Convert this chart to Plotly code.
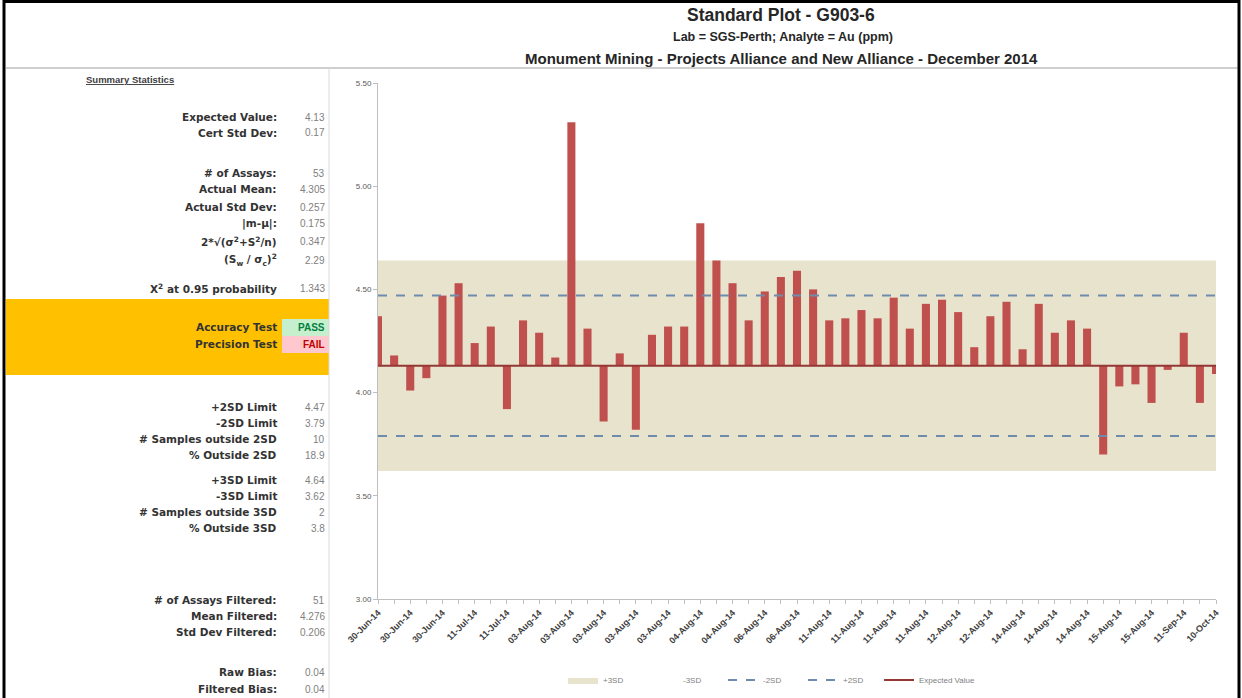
import plotly.graph_objects as go

# ---- data ----
expected_value = 4.13
sd2_lower, sd2_upper = 3.79, 4.47
sd3_lower, sd3_upper = 3.62, 4.64

assay_values = [
    4.37, 4.18, 4.01, 4.07, 4.47, 4.53, 4.24, 4.32, 3.92, 4.35,
    4.29, 4.17, 5.31, 4.31, 3.86, 4.19, 3.82, 4.28, 4.32, 4.32,
    4.82, 4.64, 4.53, 4.35, 4.49, 4.56, 4.59, 4.50, 4.35, 4.36,
    4.40, 4.36, 4.46, 4.31, 4.43, 4.45, 4.39, 4.22, 4.37, 4.44,
    4.21, 4.43, 4.29, 4.35, 4.31, 3.70, 4.03, 4.04, 3.95, 4.11,
    4.29, 3.95, 4.09,
]

# every second sample carries a date label
tick_labels = [
    "30-Jun-14", "30-Jun-14", "30-Jun-14", "11-Jul-14", "11-Jul-14",
    "03-Aug-14", "03-Aug-14", "03-Aug-14", "03-Aug-14", "03-Aug-14",
    "04-Aug-14", "04-Aug-14", "06-Aug-14", "06-Aug-14", "11-Aug-14",
    "11-Aug-14", "11-Aug-14", "11-Aug-14", "12-Aug-14", "12-Aug-14",
    "14-Aug-14", "14-Aug-14", "14-Aug-14", "15-Aug-14", "15-Aug-14",
    "11-Sep-14", "10-Oct-14",
]

y_ticks = [3.00, 3.50, 4.00, 4.50, 5.00, 5.50]

stat_labels = [
    "Expected Value:", "Cert Std Dev:",
    "# of Assays:", "Actual Mean:", "Actual Std Dev:", "|m-\u03bc|:",
    "2*\u221a(\u03c3<sup>2</sup>+S<sup>2</sup>/n)",
    "(S<sub>w</sub> / \u03c3<sub>c</sub>)<sup>2</sup>",
    "X<sup>2</sup> at 0.95 probability",
    "Accuracy Test", "Precision Test",
    "+2SD Limit", "-2SD Limit", "# Samples outside 2SD", "% Outside 2SD",
    "+3SD Limit", "-3SD Limit", "# Samples outside 3SD", "% Outside 3SD",
    "# of Assays Filtered:", "Mean Filtered:", "Std Dev Filtered:",
    "Raw Bias:", "Filtered Bias:",
]
stat_values = [
    "4.13", "0.17",
    "53", "4.305", "0.257", "0.175", "0.347", "2.29", "1.343",
    "PASS", "FAIL",
    "4.47", "3.79", "10", "18.9",
    "4.64", "3.62", "2", "3.8",
    "51", "4.276", "0.206",
    "0.04", "0.04",
]

# ---- layout helpers (pixel -> paper) ----
PL, PR, PT, PB = 378, 1216, 83, 599
W, H = 1242, 698


def px(x):
    return (x - PL) / (PR - PL)


def py(y):
    return (PB - y) / (PB - PT)


row_y = [117, 133, 173, 189, 207, 223, 241, 260, 288, 327, 344,
         407, 423, 439, 455, 480, 496, 512, 528, 600, 616, 632, 672, 689]

idx = list(range(len(assay_values)))
x_end = idx[-1]

BAR_RED = "#C0504D"
BAND = "#E8E3CC"
DASH = "#6F8BAE"
EXP_LINE = "#953735"

fig = go.Figure()

fig.add_trace(go.Bar(
    x=idx,
    y=[v - expected_value for v in assay_values],
    base=expected_value,
    width=0.5,
    marker=dict(color=BAR_RED, line=dict(width=0)),
    showlegend=False,
    hovertemplate="%{y:.2f}<extra></extra>",
))

# legend-only entry for the 3SD band (band itself is a shape below the bars)
fig.add_trace(go.Scatter(
    x=[None], y=[None], mode="lines", fill="toself",
    fillcolor=BAND, line=dict(color=BAND, width=0), name="+3SD",
))
fig.add_trace(go.Scatter(
    x=[0, x_end], y=[sd3_lower] * 2, mode="lines",
    line=dict(color="rgba(0,0,0,0)", width=1), name="-3SD",
))
fig.add_trace(go.Scatter(
    x=[0, x_end], y=[sd2_lower] * 2, mode="lines",
    line=dict(color=DASH, width=2, dash="dash"), name="-2SD",
))
fig.add_trace(go.Scatter(
    x=[0, x_end], y=[sd2_upper] * 2, mode="lines",
    line=dict(color=DASH, width=2, dash="dash"), name="+2SD",
))
fig.add_trace(go.Scatter(
    x=[0, x_end], y=[expected_value] * 2, mode="lines",
    line=dict(color=EXP_LINE, width=2), name="Expected Value",
    legend="legend2",
))

shapes = [
    # 3SD band
    dict(type="rect", xref="x", yref="y", x0=0, x1=x_end,
         y0=sd3_lower, y1=sd3_upper, fillcolor=BAND,
         line=dict(width=0), layer="below"),
    # orange test band on the left
    dict(type="rect", xref="paper", yref="paper", x0=px(6), x1=px(329),
         y0=py(375), y1=py(299), fillcolor="#FFC000", line=dict(width=0)),
    # PASS / FAIL cells
    dict(type="rect", xref="paper", yref="paper", x0=px(282), x1=px(329),
         y0=py(336), y1=py(319), fillcolor="#C6EFCE", line=dict(width=0)),
    dict(type="rect", xref="paper", yref="paper", x0=px(282), x1=px(329),
         y0=py(353), y1=py(336), fillcolor="#FFC7CE", line=dict(width=0)),
    # separators
    dict(type="line", xref="paper", yref="paper", x0=px(6), x1=px(1238),
         y0=py(68), y1=py(68), line=dict(color="#BFBFBF", width=1.5)),
    dict(type="line", xref="paper", yref="paper", x0=px(329), x1=px(329),
         y0=py(68), y1=py(H), line=dict(color="#D9D9D9", width=1)),
    # black frame
    dict(type="line", xref="paper", yref="paper", x0=px(4), x1=px(4),
         y0=py(0), y1=py(H), line=dict(color="black", width=3)),
    dict(type="line", xref="paper", yref="paper", x0=px(4), x1=px(1239),
         y0=py(1.5), y1=py(1.5), line=dict(color="black", width=3)),
    dict(type="line", xref="paper", yref="paper", x0=px(1239), x1=px(1239),
         y0=py(0), y1=py(H), line=dict(color="black", width=3)),
]

annotations = [
    dict(text="<b>Standard Plot - G903-6</b>", x=px(781), y=py(15),
         font=dict(size=17.5, color="#262626")),
    dict(text="<b>Lab = SGS-Perth; Analyte = Au (ppm)</b>", x=px(783), y=py(37),
         font=dict(size=12.5, color="#262626")),
    dict(text="<b>Monument Mining - Projects Alliance and New Alliance - December 2014</b>",
         x=px(781), y=py(59), font=dict(size=15, color="#262626")),
    dict(text="<b><u>Summary Statistics</u></b>", x=px(130), y=py(79),
         font=dict(size=9.5, color="#404040")),
]
for a in annotations:
    a.update(xref="paper", yref="paper", showarrow=False,
             xanchor="center", yanchor="middle")

value_colors = {"PASS": "#008040", "FAIL": "#C00000"}
for label, value, ry in zip(stat_labels, stat_values, row_y):
    annotations.append(dict(
        text="<b>" + label + "</b>", x=px(279), y=py(ry),
        xref="paper", yref="paper", showarrow=False,
        xanchor="right", yanchor="middle",
        font=dict(family="DejaVu Sans, Arial, sans-serif", size=10.5,
                  color="#333333"),
    ))
    bold = value in value_colors
    annotations.append(dict(
        text=("<b>%s</b>" % value) if bold else value, x=px(327), y=py(ry),
        xref="paper", yref="paper", showarrow=False,
        xanchor="right", yanchor="middle",
        font=dict(size=10, color=value_colors.get(value, "#808080")),
    ))

legend_style = dict(
    orientation="h",
    yanchor="middle",
    y=py(680),
    xanchor="left",
    font=dict(size=8, color="#7F7F7F"),
    bgcolor="rgba(0,0,0,0)",
    itemwidth=30,
)

fig.update_layout(
    width=W,
    height=H,
    margin=dict(l=PL, r=W - PR, t=PT, b=H - PB, pad=0, autoexpand=False),
    paper_bgcolor="white",
    plot_bgcolor="white",
    font=dict(family="Arial, Liberation Sans, sans-serif", color="#404040"),
    barmode="overlay",
    shapes=shapes,
    annotations=annotations,
    showlegend=True,
    legend=dict(legend_style, x=px(563), entrywidth=35,
                entrywidthmode="pixels"),
    legend2=dict(legend_style, x=px(879)),
    xaxis=dict(
        range=[0, x_end],
        tickmode="array",
        tickvals=idx[::2],
        ticktext=["<b>%s</b>" % t for t in tick_labels],
        tickangle=-45,
        tickfont=dict(size=9, color="#404040"),
        ticks="outside",
        ticklen=4,
        tickcolor="#BFBFBF",
        minor=dict(tickmode="linear", tick0=0, dtick=1, ticks="outside",
                   ticklen=4, tickcolor="#BFBFBF"),
        showline=True,
        linecolor="#BFBFBF",
        linewidth=1,
        showgrid=False,
        zeroline=False,
        fixedrange=True,
    ),
    yaxis=dict(
        range=[y_ticks[0], y_ticks[-1]],
        tickmode="array",
        tickvals=y_ticks,
        tickformat=".2f",
        tickfont=dict(size=8, color="#595959"),
        ticks="outside",
        ticklen=4,
        tickcolor="#BFBFBF",
        showline=True,
        linecolor="#BFBFBF",
        linewidth=1,
        showgrid=False,
        zeroline=False,
        fixedrange=True,
    ),
)

fig.write_html(
    "out.html",
    config={"displayModeBar": False},
    post_script="document.body.style.margin='0px';document.body.style.overflow='hidden';",
)
